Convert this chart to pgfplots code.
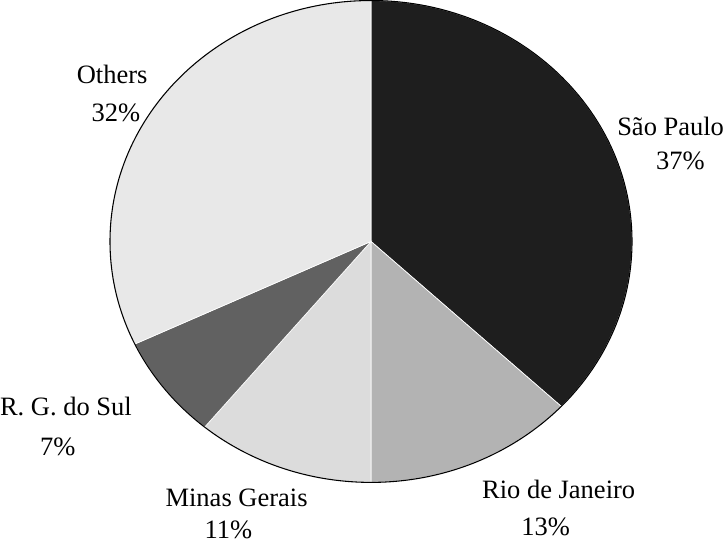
\documentclass[border=0pt]{standalone}
\usepackage{fontspec}
\setmainfont{Liberation Serif}
\usepackage{pgfplots}
\usepackage{pgfplotstable}
\pgfplotsset{compat=1.18}
\definecolor{cSP}{HTML}{1E1E1E}
\definecolor{cRJ}{HTML}{B3B3B3}
\definecolor{cMG}{HTML}{DCDCDC}
\definecolor{cRS}{HTML}{616161}
\definecolor{cOT}{HTML}{E8E8E8}
\pgfplotstableread[col sep=comma]{
name,value,col,lx,ly,px,py
São Paulo,37,cSP,1.148,0.479,1.185,0.333
Rio de Janeiro,13,cRJ,0.719,-1.029,0.669,-1.186
Minas Gerais,11,cMG,-0.515,-1.0625,-0.546,-1.196
R. G. do Sul,7,cRS,-1.169,-0.683,-1.200,-0.854
Others,32,cOT,-0.992,0.692,-0.977,0.533
}\piedata
\begin{document}
\begin{tikzpicture}
\begin{axis}[hide axis, scale only axis, width=543pt, height=411pt,
  xmin=-1.4269, xmax=1.3577, ymin=-1.2708, ymax=1.0125, clip=false]
\pgfplotstablegetrowsof{\piedata}
\pgfmathtruncatemacro{\nlast}{\pgfplotsretval-1}
\xdef\startang{90}
\pgfplotsforeachungrouped \i in {0,...,\nlast}{
  \pgfplotstablegetelem{\i}{value}\of\piedata \let\val\pgfplotsretval
  \pgfplotstablegetelem{\i}{col}\of\piedata \let\col\pgfplotsretval
  \pgfplotstablegetelem{\i}{name}\of\piedata \let\nm\pgfplotsretval
  \pgfplotstablegetelem{\i}{lx}\of\piedata \let\lx\pgfplotsretval
  \pgfplotstablegetelem{\i}{ly}\of\piedata \let\ly\pgfplotsretval
  \pgfplotstablegetelem{\i}{px}\of\piedata \let\px\pgfplotsretval
  \pgfplotstablegetelem{\i}{py}\of\piedata \let\py\pgfplotsretval
  \pgfmathsetmacro{\endang}{\startang-3.6*\val}
  \edef\temp{\noexpand\filldraw[fill=\col, draw=white, line width=0.5pt]
    (axis cs:0,0) -- (axis cs:{cos(\startang)},{sin(\startang)})
    arc[start angle=\startang, end angle=\endang, radius=1] -- cycle;
    \noexpand\node[inner sep=0pt, font=\noexpand\fontsize{19.8}{23}\noexpand\selectfont] at (axis cs:\lx,\ly) {\nm};
    \noexpand\node[inner sep=0pt, font=\noexpand\fontsize{19.8}{23}\noexpand\selectfont] at (axis cs:\px,\py) {\val\noexpand\%};
  }
  \temp
  \xdef\startang{\endang}
}
\draw[black, line width=0.8pt] (axis cs:0,0) ellipse[x radius=1, y radius=1];
\end{axis}
\end{tikzpicture}
\end{document}
